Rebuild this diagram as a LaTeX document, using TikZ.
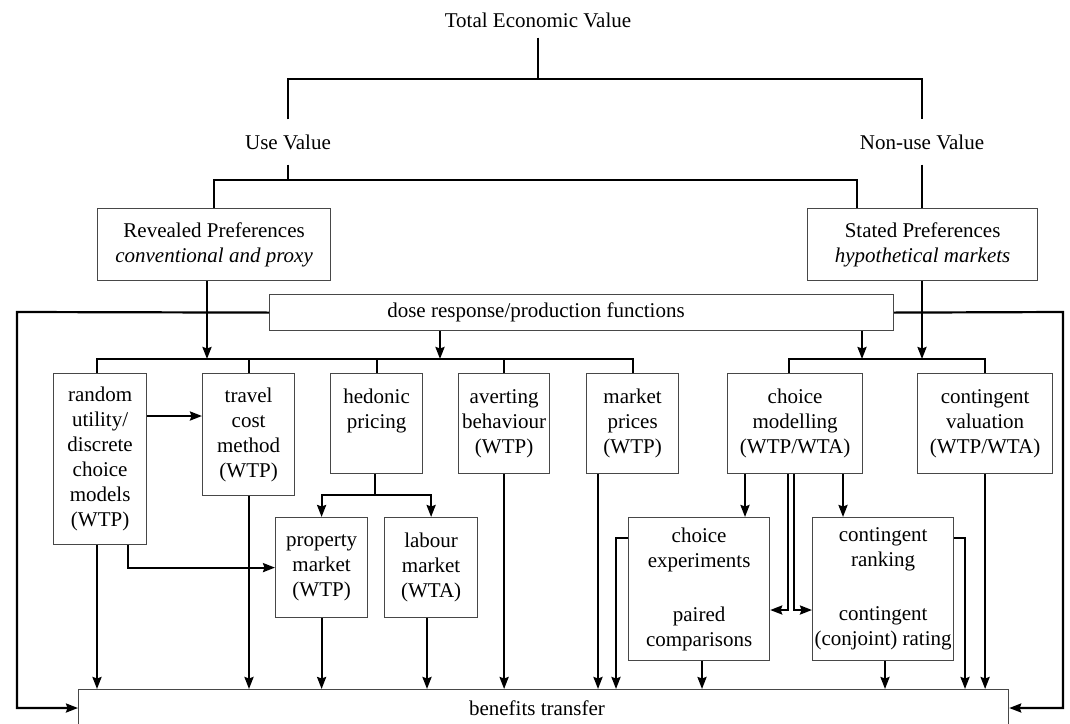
\documentclass[tikz,border=0pt]{standalone}
\usepackage{fontspec}
\setmainfont{Liberation Serif}
\usetikzlibrary{arrows.meta,calc}
\newcommand\diagfont{\fontsize{21}{25}\selectfont}
\tikzset{
  box/.style={draw=black!72, line width=1.2pt, align=center, inner sep=0pt,
              font=\diagfont, anchor=north west},
  lbl/.style={align=center, inner xsep=0pt, font=\diagfont},
  link/.style={line width=2.2pt},
  arr/.style={link, -{Stealth[length=12pt,width=9pt,inset=1.5pt]}},
}
\begin{document}
\begin{tikzpicture}[x=1pt,y=-1pt]
\useasboundingbox (0,0) rectangle (1070,723);

% value hierarchy
\node[lbl, inner ysep=10pt] (tev) at (538,20) {Total Economic Value};
\node[lbl, inner ysep=15pt] (use) at (288,142) {Use Value};
\node[lbl, inner ysep=15pt] (nonuse) at (922,142) {Non-use Value};

\node[box, minimum width=233pt, minimum height=72pt] (rp) at (97,208)
  {Revealed Preferences\\\textit{conventional and proxy}};
\node[box, minimum width=230pt, minimum height=72pt] (sp) at (807,208)
  {Stated Preferences\\\textit{hypothetical markets}};

\node[box, minimum width=624pt, minimum height=36pt] (dose) at (269,294) {};
\node[lbl] (dosetxt) at (536,312) {dose response/production functions};

% valuation methods
\node[box, minimum width=93pt, minimum height=171pt] (ru) at (53,373)
  {random\\utility/\\discrete\\choice\\models\\(WTP)};
\node[box, minimum width=92pt, minimum height=122pt] (tc) at (202,373)
  {travel\\cost\\method\\(WTP)};
\node[box, minimum width=92pt, minimum height=100pt] (hp) at (330,373)
  {hedonic\\pricing\\\phantom{p}};
\node[box, minimum width=91pt, minimum height=100pt] (av) at (458,373)
  {averting\\behaviour\\(WTP)};
\node[box, minimum width=92pt, minimum height=100pt] (mp) at (586,373)
  {market\\prices\\(WTP)};
\node[box, minimum width=135pt, minimum height=100pt] (cm) at (727,373)
  {choice\\modelling\\(WTP/WTA)};
\node[box, minimum width=135pt, minimum height=100pt] (cv) at (917,373)
  {contingent\\valuation\\(WTP/WTA)};

\node[box, minimum width=92pt, minimum height=100pt] (pm) at (275,517)
  {property\\market\\(WTP)};
\node[box, minimum width=93pt, minimum height=100pt] (lm) at (384,517)
  {labour\\market\\(WTA)};
\node[box, minimum width=141pt, minimum height=143pt] (ce) at (628,517)
  {choice\\experiments\\[29pt]paired\\comparisons};
\node[box, minimum width=141pt, minimum height=143pt] (cr) at (812,517)
  {contingent\\ranking\\[29pt]contingent\\(conjoint) rating};

\node[box, minimum width=930pt, minimum height=60pt] (bt) at (78,689) {};
\node[lbl] (bttxt) at (537,708) {benefits transfer};

% tree above the preference boxes
\coordinate (top) at (538,79);
\coordinate (ub) at (288,180);
\draw[link] (tev.south) -- (top);
\draw[link] (use.north) |- (top) -| (nonuse.north);
\draw[link] (use.south) -- (ub);
\draw[link] (rp.north) |- (ub) -| (sp.north -| 857,0);
\draw[link] (nonuse.south) -- (sp.north -| nonuse.south);

% feeds into the method buses
\draw[arr] (rp.south -| 207,0) -- (207,359);
\draw[arr] (dose.south -| 440,0) -- (440,359);
\draw[arr] (dose.south -| 862,0) -- (862,359);
\draw[arr] (sp.south -| nonuse.south) -- (nonuse.south |- 0,359);

% revealed preference bus
\draw[link] (ru.north -| 97,0) |- (mp.north |- 0,359) -- (mp.north);
\draw[link] (tc.north |- 0,359) -- (tc.north);
\draw[link] (hp.north |- 0,359) -- (hp.north);
\draw[link] (av.north |- 0,359) -- (av.north);

% stated preference bus
\draw[link] (cm.north -| 789,0) |- (cv.north |- 0,359) -- (cv.north);

% dose response links to benefits transfer
\draw[arr] (dose.west) -- (17,312) |- (bt.west |- 0,708);
\draw[arr] (dose.east) -- (1063,312) |- (bt.east |- 0,708);

% links among the methods
\draw[arr] (ru.east |- 0,416) -- (tc.west |- 0,416);
\draw[arr] (ru.south -| 128,0) |- (pm.west);
\coordinate (hj) at (375,495);
\draw[link] (hp.south -| hj) -- (hj);
\draw[arr] (hj) -| (pm.north);
\draw[arr] (hj) -| (lm.north);
\draw[arr] (cm.south -| 745,0) -- (ce.north -| 745,0);
\draw[arr] (cm.south -| 843,0) -- (cr.north -| 843,0);
\draw[arr] (cm.south -| 788,0) |- (ce.east |- 0,610);
\draw[arr] (cm.south -| 794,0) |- (cr.west |- 0,610);

% everything flows into benefits transfer
\draw[arr] (ru.south -| 97,0) -- (bt.north -| 97,0);
\draw[arr] (tc.south -| 249,0) -- (bt.north -| 249,0);
\draw[arr] (pm.south) -- (bt.north -| pm.south);
\draw[arr] (lm.south -| 427,0) -- (bt.north -| 427,0);
\draw[arr] (av.south) -- (bt.north -| av.south);
\draw[arr] (mp.south -| 598,0) -- (bt.north -| 598,0);
\draw[arr] (ce.west |- 0,538) -| (bt.north -| 616,0);
\draw[arr] (ce.south -| 702,0) -- (bt.north -| 702,0);
\draw[arr] (cr.south -| 885,0) -- (bt.north -| 885,0);
\draw[arr] (cr.east |- 0,538) -| (bt.north -| 965,0);
\draw[arr] (cv.south) -- (bt.north -| cv.south);
\end{tikzpicture}
\end{document}
